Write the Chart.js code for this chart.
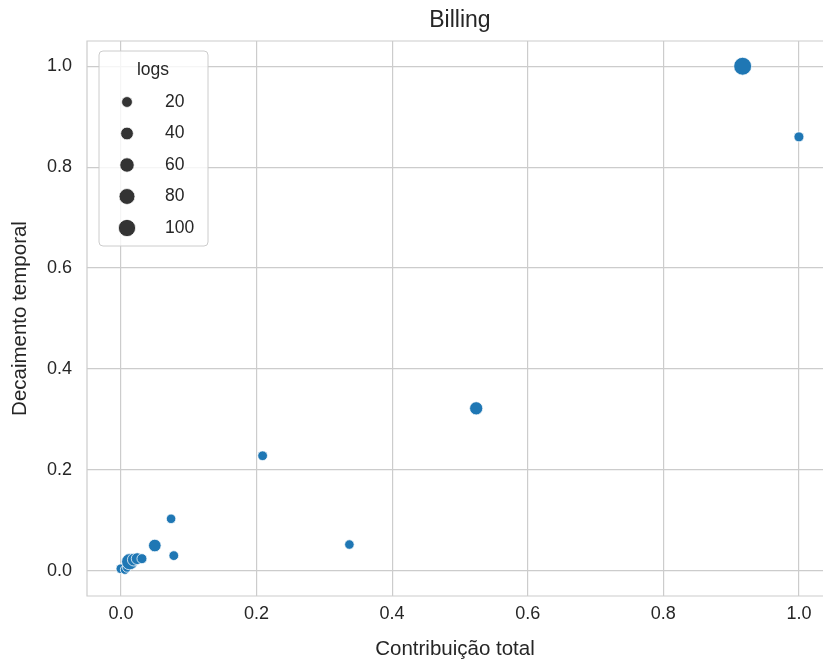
<!DOCTYPE html>
<html>
<head>
<meta charset="utf-8">
<script src="https://cdn.jsdelivr.net/npm/chart.js@4/dist/chart.umd.min.js"></script>
<style>
    html, body { margin: 0; padding: 0; background: #fff; overflow: hidden; }
</style>
</head>
<body>
<canvas id="billingChart" width="823" height="664"></canvas>
<script>
// values
const contribution = [0.917, 1.000, 0.524, 0.209, 0.337, 0.074, 0.078, 0.050, 0.000, 0.006, 0.009, 0.013, 0.019, 0.024, 0.031];
const decay        = [1.000, 0.860, 0.322, 0.228, 0.052, 0.103, 0.030, 0.050, 0.004, 0.002, 0.006, 0.018, 0.022, 0.024, 0.024];
const logs         = [110,   12,    45,    10,    8,     8,     10,    38,    10,    6,     4,     85,    40,    30,    12];

const xTicks = [0, 0.2, 0.4, 0.6, 0.8, 1.0];
const yTicks = [0, 0.2, 0.4, 0.6, 0.8, 1.0];
const legendSizes = [20, 40, 60, 80, 100];

const minLogs = 4, maxLogs = 110;
const sizeOf = (v)=> {
    // seaborn maps size to marker area, linearly
    const area = 20.25 + (v - minLogs) / (maxLogs - minLogs) * 59.75;
    return Math.sqrt(area);
};

const font = "'Liberation Sans', Arial, sans-serif";
const textColor = "#262626";
const gridColor = "#cccccc";

// axes frame; the right spine falls outside the cropped picture
const frame = {
    id: "frame",
    beforeDatasetsDraw(chart) {
        const {ctx, chartArea: a} = chart;
        ctx.save();
        ctx.strokeStyle = gridColor;
        ctx.lineWidth = 1.2;
        ctx.beginPath();
        ctx.moveTo(a.right + 5, a.top);
        ctx.lineTo(a.left, a.top);
        ctx.lineTo(a.left, a.bottom);
        ctx.lineTo(a.right + 5, a.bottom);
        ctx.stroke();
        ctx.restore();
    }
};

// title centred over the full axes (-0.05 .. 1.05), not the cropped canvas
const axesTitle = {
    id: "axesTitle",
    afterDraw(chart) {
        const {ctx} = chart;
        ctx.save();
        ctx.fillStyle = textColor;
        ctx.font = "23px " + font;
        ctx.textAlign = "center";
        ctx.textBaseline = "alphabetic";
        ctx.fillText("Billing", chart.scales.x.getPixelForValue(0.5), 27);
        ctx.restore();
    }
};

const sizeLegend = {
    id: "sizeLegend",
    afterDatasetsDraw(chart) {
        const {ctx, chartArea: a} = chart;
        const x = a.left + 12, y = a.top + 10, w = 109, h = 195;
        ctx.save();
        ctx.beginPath();
        ctx.roundRect(x, y, w, h, 4);
        ctx.fillStyle = "rgba(255,255,255,0.8)";
        ctx.fill();
        ctx.strokeStyle = gridColor;
        ctx.lineWidth = 1;
        ctx.stroke();

        ctx.fillStyle = textColor;
        ctx.font = "17.5px " + font;
        ctx.textAlign = "center";
        ctx.textBaseline = "middle";
        ctx.fillText("logs", x + 54, y + 19);

        legendSizes.forEach((s, i)=> {
            const cy = y + 51 + i * 31.5;
            ctx.beginPath();
            ctx.arc(x + 28, cy, sizeOf(s), 0, Math.PI * 2);
            ctx.fillStyle = "#333333";
            ctx.fill();
            ctx.strokeStyle = "#ffffff";
            ctx.lineWidth = 0.75;
            ctx.stroke();
            ctx.fillStyle = textColor;
            ctx.textAlign = "left";
            ctx.fillText(String(s), x + 66, cy);
        });
        ctx.restore();
    }
};

const points = contribution.map((c, i)=> ({x: c, y: decay[i], r: sizeOf(logs[i])}));

const ctx = document.getElementById("billingChart");
const chart = new Chart(ctx, {
    type: "scatter",
    data: {
        datasets: [{
            label: "logs",
            data: points,
            backgroundColor: "#1f77b4",
            borderColor: "#ffffff",
            borderWidth: 0.75,
            pointRadius: (c)=> c.raw ? c.raw.r : 4,
            pointHoverRadius: (c)=> c.raw ? c.raw.r : 4
        }]
    },
    options: {
        responsive: false,
        animation: false,
        layout: {autoPadding: false, padding: {left: 0, right: 0, top: 41, bottom: 0}},
        plugins: {
            legend: {display: false},
            tooltip: {enabled: false},
            title: {display: false}
        },
        scales: {
            x: {
                type: "linear",
                min: -0.05,
                max: 1.0355,
                afterBuildTicks: (s)=> { s.ticks = xTicks.map(v => ({value: v})); },
                afterFit: (s)=> {
                    s.height = 68;
                    s.paddingLeft = 0;
                    s.paddingRight = 0;
                },
                border: {display: false},
                grid: {color: gridColor, lineWidth: 1.2, drawTicks: false},
                ticks: {
                    color: textColor,
                    padding: 7,
                    maxRotation: 0,
                    font: {family: font, size: 18},
                    callback: (v)=> v.toFixed(1)
                },
                title: {
                    display: true,
                    text: "Contribuição total",
                    color: textColor,
                    font: {family: font, size: 20.5},
                    padding: {top: 0, bottom: 2}
                }
            },
            y: {
                type: "linear",
                min: -0.05,
                max: 1.05,
                afterBuildTicks: (s)=> { s.ticks = yTicks.map(v => ({value: v})); },
                afterFit: (s)=> {
                    s.width = 87;
                    s.paddingTop = 0;
                    s.paddingBottom = 0;
                },
                border: {display: false},
                grid: {color: gridColor, lineWidth: 1.2, drawTicks: false},
                ticks: {
                    color: textColor,
                    padding: 15,
                    font: {family: font, size: 18},
                    callback: (v)=> v.toFixed(1)
                },
                title: {
                    display: true,
                    text: "Decaimento temporal",
                    color: textColor,
                    font: {family: font, size: 20.5},
                    padding: {top: 8, bottom: 0}
                }
            }
        }
    },
    plugins: [frame, sizeLegend, axesTitle]
});
</script>
</body>
</html>
